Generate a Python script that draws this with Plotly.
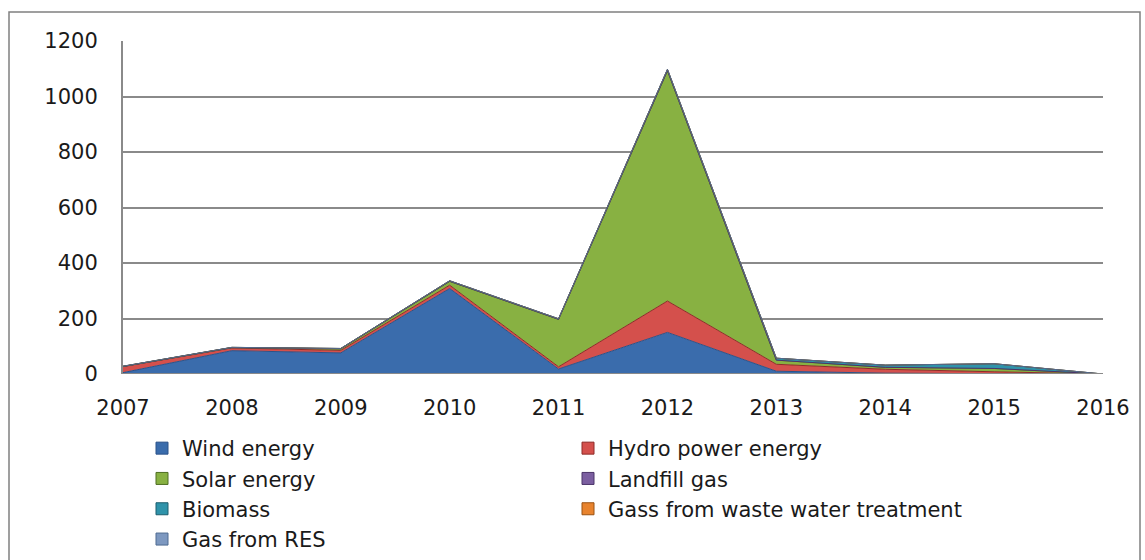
import plotly.graph_objects as go

# Annual installed renewable capacity by source (stacked)
years = [2007, 2008, 2009, 2010, 2011, 2012, 2013, 2014, 2015, 2016]
wind = [5, 84, 76, 308, 18, 150, 10, 3, 1, 0]
hydro = [22, 10, 9, 12, 8, 113, 25, 14, 7, 0]
solar = [0, 1, 6, 14, 171, 830, 15, 7, 12, 0]
landfill = [0, 0, 0, 0, 0, 0, 0, 0, 0, 0]
biomass = [1, 1, 1, 2, 2, 5, 7, 8, 17, 0]
waste_water = [0, 0, 0, 0, 0, 0, 0, 0, 0, 0]
gas_res = [0, 0, 0, 0, 0, 0, 0, 0, 0, 0]

y_ticks = [0, 200, 400, 600, 800, 1000, 1200]

series = [
    ("Wind energy", wind, "#3A6CAC", "#2B5289", "legend"),
    ("Hydro power energy", hydro, "#D4504C", "#8E2B28", "legend2"),
    ("Solar energy", solar, "#88B142", "#4F6F22", "legend"),
    ("Landfill gas", landfill, "#7B5EA0", "#4B3469", "legend2"),
    ("Biomass", biomass, "#2F93AA", "#1D5E6E", "legend"),
    ("Gass from waste water treatment", waste_water, "#E8832E", "#9A5212", "legend2"),
    ("Gas from RES", gas_res, "#7D98C0", "#4F6A91", "legend"),
]

W, H = 1145, 560
L, R, T, B = 123, 42, 41, 186
PW, PH = W - L - R, H - T - B


def px_x(p):
    return (p - L) / PW


def px_y(p):
    return (H - B - p) / PH


fig = go.Figure()
for name, vals, fill, edge, lg in series:
    fig.add_trace(go.Scatter(
        x=years, y=vals, name=name, mode="lines",
        stackgroup="one", fillcolor=fill,
        line=dict(color=edge, width=1),
        showlegend=False, hoverinfo="skip",
    ))
    # square legend swatch
    fig.add_trace(go.Scatter(
        x=[None], y=[None], name=name, mode="markers",
        marker=dict(symbol="square", size=12, color=fill,
                    line=dict(color=edge, width=1)),
        legend=lg, showlegend=True,
    ))

tick_font = dict(family="DejaVu Sans, sans-serif", size=21, color="#1a1a1a")
legend_font = dict(family="DejaVu Sans, sans-serif", size=21, color="#1a1a1a")

fig.update_layout(
    width=W, height=H,
    margin=dict(l=L, r=R, t=T, b=B, autoexpand=False),
    paper_bgcolor="white", plot_bgcolor="white",
    font=tick_font,
    xaxis=dict(
        range=[2007, 2016], tickvals=years, ticktext=[str(y) for y in years],
        showgrid=False, zeroline=False, showline=False,
        ticks="", ticklabelstandoff=19, fixedrange=True, automargin=False,
    ),
    yaxis=dict(
        range=[0, 1200], tickvals=y_ticks,
        showgrid=True, gridcolor="#8a8a8a", gridwidth=2,
        zeroline=False, showline=True, linecolor="#8a8a8a", linewidth=2,
        ticks="", ticklabelstandoff=19, fixedrange=True, automargin=False,
    ),
    legend=dict(
        x=px_x(142), y=px_y(428), xanchor="left", yanchor="top",
        orientation="v", traceorder="normal", font=legend_font,
        bgcolor="rgba(0,0,0,0)", itemwidth=30,
    ),
    legend2=dict(
        x=px_x(568), y=px_y(428), xanchor="left", yanchor="top",
        orientation="v", traceorder="normal", font=legend_font,
        bgcolor="rgba(0,0,0,0)", itemwidth=30,
    ),
    shapes=[
        dict(type="rect", xref="paper", yref="paper",
             x0=px_x(9), x1=px_x(1140), y0=px_y(575), y1=px_y(12),
             line=dict(color="#808080", width=1.5), layer="below"),
        # baseline
        dict(type="line", xref="paper", yref="y",
             x0=0, x1=1, y0=0, y1=0,
             line=dict(color="#8a8a8a", width=2), layer="above"),
    ],
)

fig.write_html("out.html")
